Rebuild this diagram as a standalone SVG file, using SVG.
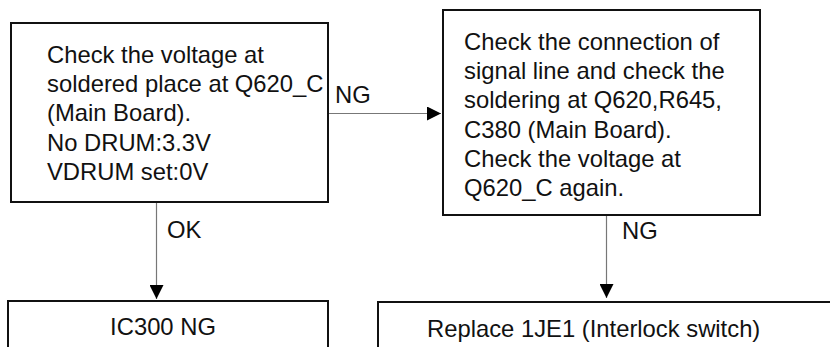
<svg xmlns="http://www.w3.org/2000/svg" width="830" height="347" viewBox="0 0 830 347">
<defs>
<style>
.box{fill:#fff;stroke:#111;stroke-width:2}
.t{font-family:"Liberation Sans",Arial,sans-serif;font-size:23.8px;fill:#111}
.c{stroke:#777;stroke-width:1.2;fill:none}
</style>
<marker id="ah" markerUnits="userSpaceOnUse" markerWidth="14" markerHeight="14" refX="14" refY="7" orient="auto">
<path d="M0,0 L14,7 L0,14 Z" fill="#000"/>
</marker>
</defs>
<rect width="830" height="347" fill="#fff"/>
<g id="n1">
<rect class="box" x="11" y="23" width="317" height="179"/>
<text class="t" x="47" y="63">Check the voltage at</text>
<text class="t" x="47" y="92">soldered place at Q620_C</text>
<text class="t" x="47" y="121">(Main Board).</text>
<text class="t" x="47" y="151">No DRUM:3.3V</text>
<text class="t" x="47" y="180">VDRUM set:0V</text>
</g>
<g id="n2">
<rect class="box" x="443" y="10" width="317" height="205"/>
<text class="t" x="464" y="50">Check the connection of</text>
<text class="t" x="464" y="79">signal line and check the</text>
<text class="t" x="464" y="108">soldering at Q620,R645,</text>
<text class="t" x="464" y="138">C380 (Main Board).</text>
<text class="t" x="464" y="167">Check the voltage at</text>
<text class="t" x="464" y="196">Q620_C again.</text>
</g>
<g id="n3">
<rect class="box" x="8" y="301" width="320" height="60"/>
<text class="t" x="163" y="335" text-anchor="middle">IC300 NG</text>
</g>
<g id="n4">
<rect class="box" x="378" y="302" width="470" height="60"/>
<text class="t" x="427" y="337">Replace 1JE1 (Interlock switch)</text>
</g>
<g id="connectors">
<line class="c" x1="329" y1="113.5" x2="441" y2="113.5" marker-end="url(#ah)"/>
<text class="t" x="335" y="103">NG</text>
<line class="c" x1="156.5" y1="203" x2="156.5" y2="299" marker-end="url(#ah)"/>
<text class="t" x="167" y="238">OK</text>
<line class="c" x1="606.5" y1="216" x2="606.5" y2="298" marker-end="url(#ah)"/>
<text class="t" x="622" y="239">NG</text>
</g>
</svg>
